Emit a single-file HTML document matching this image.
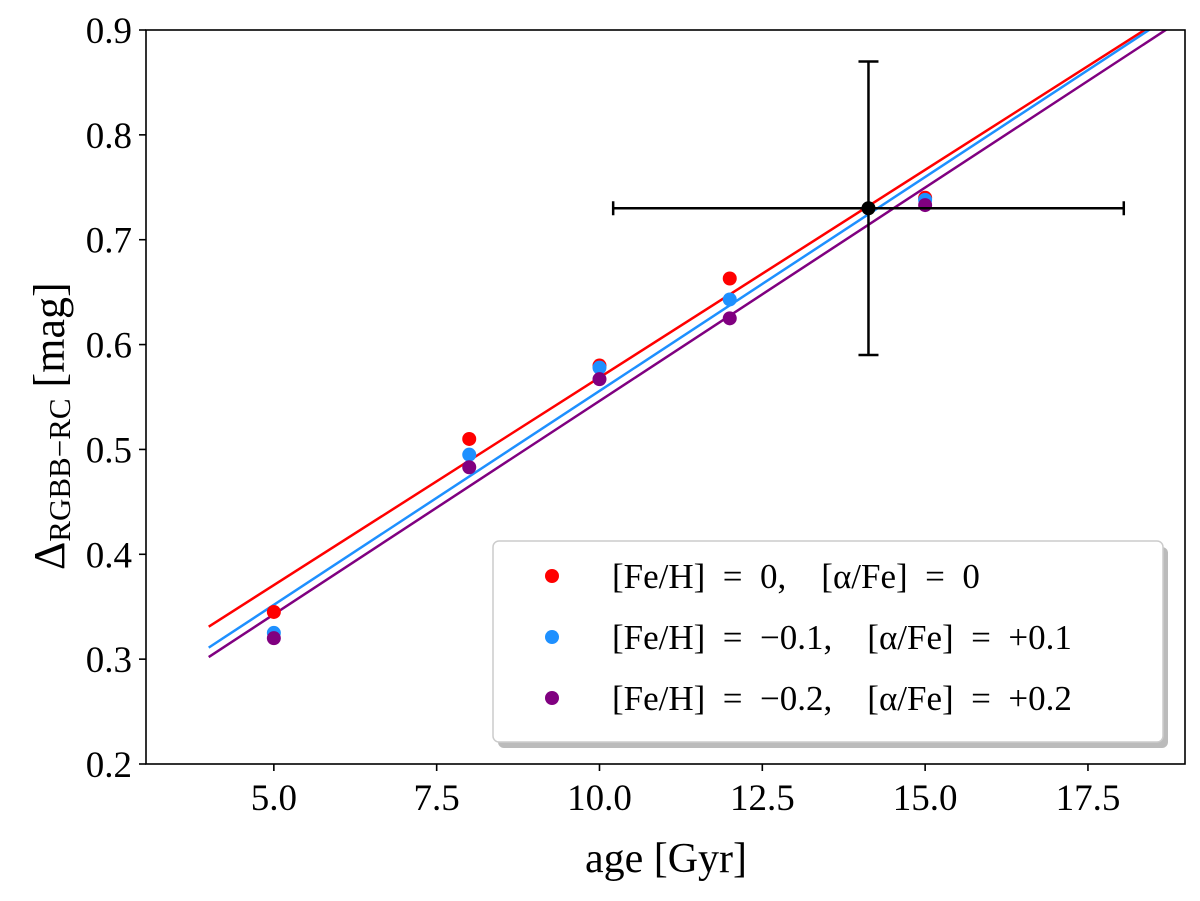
<!DOCTYPE html>
<html><head><meta charset="utf-8"><style>
body{margin:0;background:#fff}
svg text{font-family:"Liberation Serif","DejaVu Serif",serif;fill:#000}
</style></head><body>
<svg id="chart" width="1200" height="896" xmlns="http://www.w3.org/2000/svg"></svg>
<script>
const ages=[5,8,10,12,15];
const redVals=[0.345,0.51,0.58,0.663,0.74];
const blueVals=[0.325,0.495,0.578,0.643,0.738];
const purpleVals=[0.32,0.483,0.567,0.625,0.733];
const fitIntercepts=[0.331,0.311,0.302];
const fitSlopes=[0.0396,0.0408,0.0407];
const fitStart=[4,4,4];
const obsAge=[14.13];const obsVal=[0.73];const obsAgeErr=[3.92];const obsValErr=[0.14];
const xTicks=[5.0,7.5,10.0,12.5,15.0,17.5];
const xTickLabels=["5.0","7.5","10.0","12.5","15.0","17.5"];
const yTicks=[0.2,0.3,0.4,0.5,0.6,0.7,0.8,0.9];
const yTickLabels=["0.2","0.3","0.4","0.5","0.6","0.7","0.8","0.9"];
const legendLabels=["[Fe/H]  =  0,    [α/Fe]  =  0","[Fe/H]  =  −0.1,    [α/Fe]  =  +0.1","[Fe/H]  =  −0.2,    [α/Fe]  =  +0.2"];

const L=146,R=1185,T=30,B=764,X0=3.037,X1=18.99,Y0=0.2,Y1=0.9;
const sx=v=>L+(v-X0)/(X1-X0)*(R-L);
const sy=v=>B-(v-Y0)/(Y1-Y0)*(B-T);
const svg=document.getElementById('chart');
const NS='http://www.w3.org/2000/svg';
function mk(t,a,p){const e=document.createElementNS(NS,t);for(const k in a)e.setAttribute(k,a[k]);(p||svg).appendChild(e);return e;}
const defs=mk('defs',{});
const cp=mk('clipPath',{id:'clip'},defs);mk('rect',{x:L,y:T,width:R-L,height:B-T},cp);
const colors=['#ff0000','#1e90ff','#800080'];
const series=[redVals,blueVals,purpleVals];
const g=mk('g',{'clip-path':'url(#clip)'});


for(let i=0;i<3;i++){
 const x2=X1+1;
 const l=mk('line',{x1:sx(fitStart[i]),y1:sy(fitIntercepts[i]),x2:sx(x2),y2:sy(fitIntercepts[i]+fitSlopes[i]*(x2-fitStart[i])),stroke:colors[i],'stroke-width':2.5},g);
 
 
}
for(let i=0;i<3;i++){
 ages.forEach((a,j)=>{
  const c=mk('circle',{cx:sx(a),cy:sy(series[i][j]),r:7,fill:colors[i]},g);
  
  
 });
}
{
 const cx=sx(obsAge[0]),cy=sy(obsVal[0]);
 const x1=sx(obsAge[0]-obsAgeErr[0]),x2=sx(obsAge[0]+obsAgeErr[0]);
 const y1=sy(obsVal[0]-obsValErr[0]),y2=sy(obsVal[0]+obsValErr[0]);
 const eg=mk('g',{stroke:'#000','stroke-width':2.5});
 
 
 mk('line',{x1:x1,y1:cy,x2:x2,y2:cy},eg);
 mk('line',{x1:cx,y1:y1,x2:cx,y2:y2},eg);
 mk('line',{x1:x1,y1:cy-7,x2:x1,y2:cy+7},eg);
 mk('line',{x1:x2,y1:cy-7,x2:x2,y2:cy+7},eg);
 mk('line',{x1:cx-10,y1:y1,x2:cx+10,y2:y1},eg);
 mk('line',{x1:cx-10,y1:y2,x2:cx+10,y2:y2},eg);
 const o=mk('circle',{cx:cx,cy:cy,r:7,fill:'#000'});
 
 
}
const fr=mk('rect',{x:L,y:T,width:R-L,height:B-T,fill:'none',stroke:'#000','stroke-width':1.6});


xTicks.forEach((v,i)=>{
 mk('line',{x1:sx(v),y1:B,x2:sx(v),y2:B+7,stroke:'#000','stroke-width':1.6});
 const t=mk('text',{x:sx(v),y:B+46,'text-anchor':'middle','font-size':37});
 t.textContent=xTickLabels[i];
 
 
});
yTicks.forEach((v,i)=>{
 mk('line',{x1:L-7,y1:sy(v),x2:L,y2:sy(v),stroke:'#000','stroke-width':1.6});
 const t=mk('text',{x:L-14,y:sy(v)+13,'text-anchor':'end','font-size':37});
 t.textContent=yTickLabels[i];
 
 
});
const xt=mk('text',{x:666,y:872,'text-anchor':'middle','font-size':42});
xt.textContent='age [Gyr]';


const yt=mk('text',{transform:'translate(64,570) rotate(-90)','text-anchor':'start','font-size':44});
yt.innerHTML='Δ<tspan font-size="31" dy="6">RGBB−RC</tspan><tspan dy="-6"> [mag]</tspan>';


const lg=mk('g',{});


mk('rect',{x:498,y:547,width:670,height:201,fill:'#bbb',rx:6},lg);
mk('rect',{x:493,y:541,width:670,height:201,fill:'#fff',stroke:'#ccc','stroke-width':1.5,rx:6},lg);
legendLabels.forEach((s,i)=>{
 const y=576+i*61;
 const e=mk('g',{},lg);
 
 
 mk('circle',{cx:552,cy:y,r:7,fill:colors[i]},e);
 const t=mk('text',{x:612,y:y+12,'font-size':35,'xml:space':'preserve',style:'white-space:pre'},e);
 t.textContent=s;
});
</script>
</body></html>
